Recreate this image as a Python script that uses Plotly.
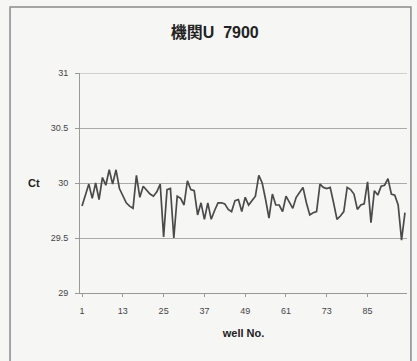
import plotly.graph_objects as go

# Ct values per well
wells = list(range(1, 97))
ct = [
    29.79, 29.88, 29.99, 29.86, 30.00, 29.85, 30.05, 29.98, 30.12, 29.99,
    30.12, 29.95, 29.88, 29.82, 29.79, 29.77, 30.07, 29.87, 29.97, 29.93,
    29.90, 29.88, 29.92, 29.99, 29.51, 29.94, 29.95, 29.50, 29.88, 29.86,
    29.80, 30.02, 29.94, 29.93, 29.71, 29.82, 29.67, 29.82, 29.67, 29.75,
    29.82, 29.82, 29.81, 29.76, 29.74, 29.84, 29.85, 29.74, 29.87, 29.80,
    29.84, 29.88, 30.07, 30.00, 29.85, 29.68, 29.90, 29.80, 29.80, 29.74,
    29.88, 29.82, 29.77, 29.87, 29.92, 29.96, 29.82, 29.71, 29.73, 29.74,
    29.99, 29.96, 29.95, 29.96, 29.82, 29.67, 29.70, 29.74, 29.96, 29.94,
    29.90, 29.76, 29.80, 29.81, 30.01, 29.64, 29.93, 29.89, 29.97, 29.98,
    30.04, 29.90, 29.89, 29.80, 29.48, 29.73,
]
x_ticks = [1, 13, 25, 37, 49, 61, 73, 85]
y_ticks = [29, 29.5, 30, 30.5, 31]

FONT = "Liberation Sans, Arial, Noto Sans CJK JP, sans-serif"
BG = "#f6f6f5"

fig = go.Figure()
fig.add_trace(go.Scatter(
    x=wells, y=ct, mode="lines",
    line=dict(color="#4a4a4a", width=1.7),
    showlegend=False,
))

fig.update_layout(
    width=417, height=361,
    margin=dict(l=80, r=10, t=73, b=68),
    paper_bgcolor=BG, plot_bgcolor=BG,
    font=dict(family=FONT, color="#333333", size=9),
    title=dict(text="<b>機関U  7900</b>", x=0.515, xanchor="center",
               y=0.91, yanchor="middle",
               font=dict(size=16, color="#222222", family=FONT)),
    xaxis=dict(
        range=[0.4, 96.6], tickmode="array", tickvals=x_ticks,
        ticks="outside", ticklen=3, tickcolor="#999999",
        ticklabelstandoff=6,
        showgrid=False, zeroline=False,
        showline=True, linecolor="#999999", linewidth=1,
        tickfont=dict(size=9, color="#444444"),
        title=dict(text="<b>well No.</b>", standoff=14,
                   font=dict(size=11, color="#222222")),
    ),
    yaxis=dict(
        range=[29, 31], tickmode="array", tickvals=y_ticks,
        ticktext=[str(v) for v in y_ticks],
        ticks="outside", ticklen=4, tickcolor="#999999",
        ticklabelstandoff=5,
        showgrid=True, gridcolor="#aaaaaa", gridwidth=1, zeroline=False,
        showline=True, linecolor="#999999", linewidth=1,
        tickfont=dict(size=9, color="#444444"),
    ),
    annotations=[dict(
        text="<b>Ct</b>", xref="paper", yref="paper",
        x=-0.14, y=0.5, xanchor="center", showarrow=False,
        font=dict(size=11, color="#222222"),
    )],
    shapes=[
        # chart frame
        dict(type="rect", xref="paper", yref="paper",
             x0=-0.214, x1=1.012, y0=-0.35, y1=1.30,
             line=dict(color="#8a8a8a", width=1.5), layer="below"),
        # top gridline at 31 (plotly drops it at the range edge)
        dict(type="line", xref="paper", yref="y",
             x0=0, x1=1, y0=y_ticks[-1], y1=y_ticks[-1],
             line=dict(color="#aaaaaa", width=1), layer="below"),
    ],
)

fig.write_html("out.html", config={"displayModeBar": False},
               post_script="document.body.style.margin='0';")
